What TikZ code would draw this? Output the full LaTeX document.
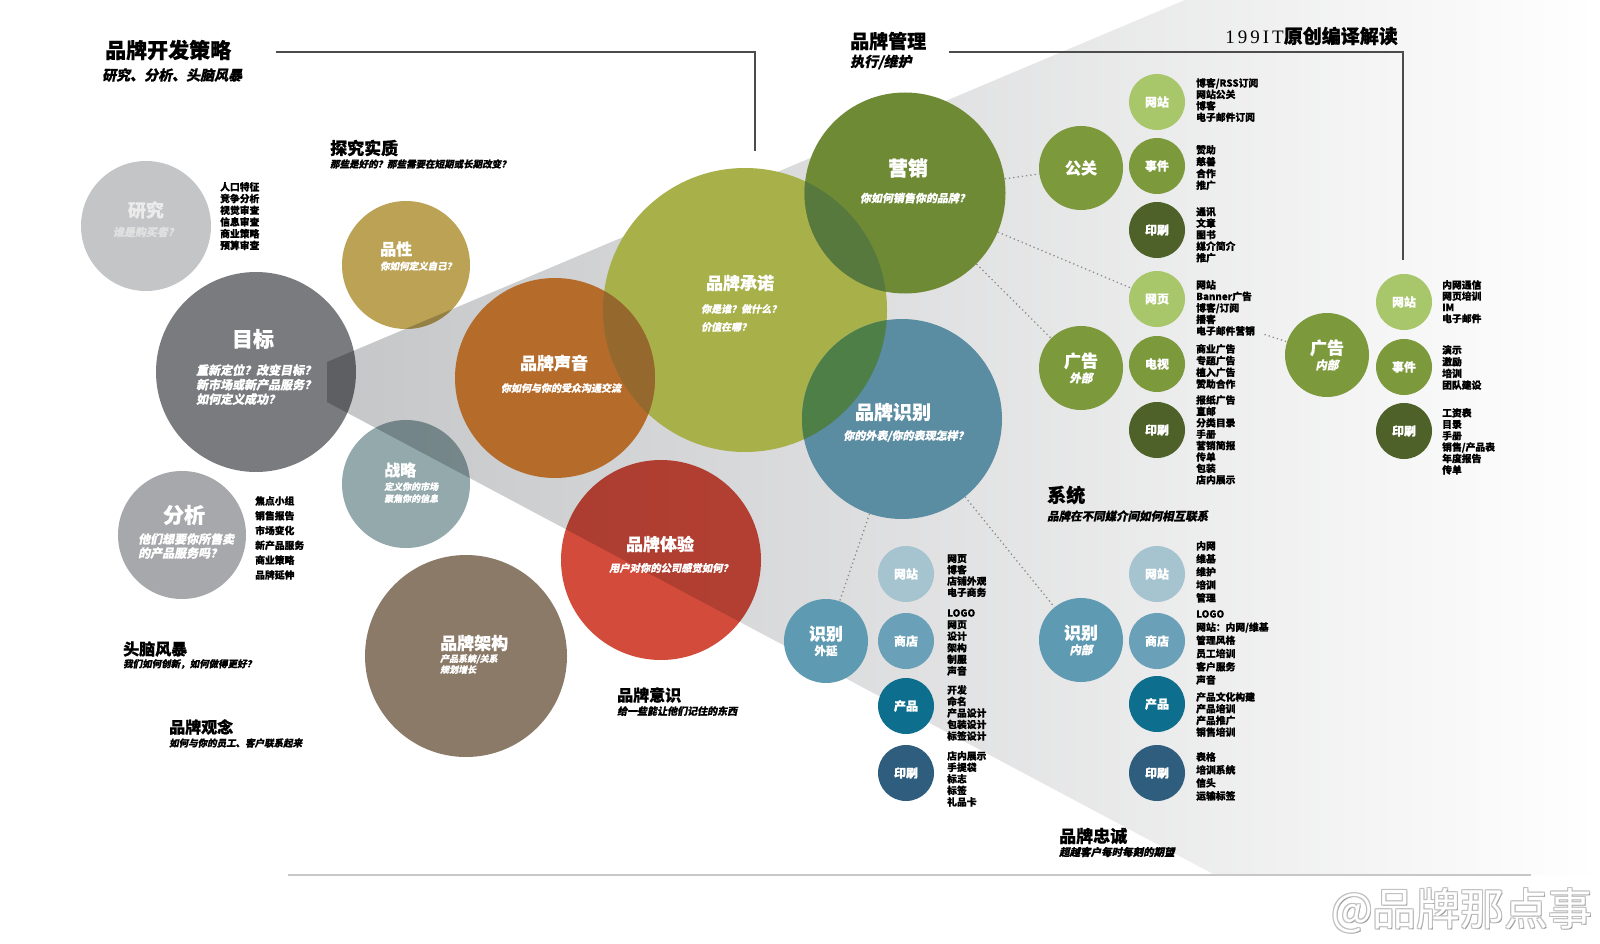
\documentclass[tikz,border=0pt]{standalone}
\usepackage{fontspec}
\setmainfont{Noto Sans CJK SC}[BoldFeatures={FakeBold=0.6}]
\newfontfamily\cjkit{Noto Sans CJK SC}[FakeSlant=0.2, BoldFeatures={FakeBold=0.6}]
\newfontfamily\latserif{Liberation Serif}
\newcommand\fsz[2]{\fontsize{#1}{#2}\selectfont}
\newcommand\lsp[2]{{\XeTeXlinebreaklocale "zh"\XeTeXlinebreakskip=#1\relax #2}}
\definecolor{cYJ}{HTML}{C4C5C7}
\definecolor{cMB}{HTML}{7A7B7E}
\definecolor{cFX}{HTML}{A7A8AB}
\definecolor{cPX}{HTML}{BBA255}
\definecolor{cZL}{HTML}{93A9AB}
\definecolor{cSY}{HTML}{B56C2B}
\definecolor{cCN}{HTML}{A8B04A}
\definecolor{cYX}{HTML}{6E8A34}
\definecolor{cSB}{HTML}{5A8CA2}
\definecolor{cTY}{HTML}{D34B3B}
\definecolor{cJG}{HTML}{8B7A68}
\definecolor{ovSY}{HTML}{95692D}
\definecolor{ovYX}{HTML}{57793E}
\definecolor{ovSB}{HTML}{4D7F46}
\definecolor{gL}{HTML}{A8C66A}
\definecolor{gM}{HTML}{7C9A3C}
\definecolor{gD}{HTML}{4E6128}
\definecolor{bL}{HTML}{A6C4D0}
\definecolor{bM}{HTML}{6BA1B8}
\definecolor{bB}{HTML}{5E9BB2}
\definecolor{bD}{HTML}{0E6E8E}
\definecolor{bN}{HTML}{2E5D7E}
\definecolor{wG}{HTML}{C5C6C8}
\tikzset{
  bub/.style={circle, inner sep=0pt, minimum size=#1},
  mul/.style={blend mode=multiply},
  hd/.style={font=\bfseries\fsz{#1}{#1}, text=white, inner sep=0pt},
  sub/.style={font=\cjkit\bfseries\fsz{#1}{#1}, text=white, inner sep=0pt},
  subm/.style 2 args={font=\cjkit\bfseries\fsz{#1}{#2}, text=white, inner sep=0pt, align=left, anchor=north west},
  bhd/.style={font=\bfseries\fsz{#1}{#1}, inner sep=0pt, anchor=west},
  bsub/.style={font=\cjkit\bfseries\fsz{#1}{#1}, inner sep=0pt, anchor=west},
  lst/.style={font=\bfseries\fsz{9.8}{#1}, align=left, anchor=north west, inner sep=0pt},
  sm/.style={circle, inner sep=0pt, minimum size=56pt, font=\bfseries\fsz{12}{12}, text=white},
  md/.style={circle, inner sep=0pt, minimum size=84pt, text=white, align=center},
  dotc/.style={draw=black!45, dash pattern=on 1.3pt off 3pt, line width=1.3pt},
  rulel/.style={draw=black!70, line width=1.3pt},
}
\begin{document}
\begin{tikzpicture}[x=1pt,y=-1pt]
\useasboundingbox (0,0) rectangle (1600,944);
\fill[white] (0,0) rectangle (1600,944);
% wedge
\shade[left color=wG, right color=white] (327,362) -- (1185,0) -- (1600,0) -- (1600,875) -- (1215,875) -- (327,402) -- cycle;
% big circles
\node[bub=130pt, fill=cYJ] (yj) at (146,226) {};
\node[bub=128pt, fill=cFX] (fx) at (182,535) {};
\node[bub=202pt, fill=cJG] (jg) at (466,656) {};
\node[bub=200pt, fill=cMB, mul] (mb) at (256,372) {};
\node[bub=128pt, fill=cPX, mul] (px) at (406,265) {};
\node[bub=128pt, fill=cZL, mul] (zl) at (406,484) {};
\node[bub=200pt, fill=cTY, mul] (ty) at (661,560) {};
\node[bub=284pt, fill=cCN] (cn) at (745,310) {};
\node[bub=200pt, fill=cSY] (sy) at (555,378) {};
\node[bub=201pt, fill=cYX] (yx) at (905,193) {};
\node[bub=200pt, fill=cSB] (sb) at (902,419) {};
\begin{scope}
  \clip (cn.center) circle[radius=142];
  \fill[ovSY] (sy.center) circle[radius=100];
  \fill[ovYX] (yx.center) circle[radius=100.5];
  \fill[ovSB] (sb.center) circle[radius=100];
\end{scope}
% small circles
\node[md, fill=gM, font=\bfseries\fsz{16}{16}] (gg) at (1081,168) {\lsp{4pt}{公关}};
\node[sm, fill=gL] (w1) at (1157,102) {\lsp{3pt}{网站}};
\node[sm, fill=gM] (e1) at (1157,166) {\lsp{3pt}{事件}};
\node[sm, fill=gD] (p1) at (1157,230) {\lsp{3pt}{印刷}};
\node[sm, fill=gL] (wy) at (1157,299) {\lsp{3pt}{网页}};
\node[sm, fill=gM] (tv) at (1157,364) {\lsp{3pt}{电视}};
\node[sm, fill=gD] (p2) at (1157,430) {\lsp{3pt}{印刷}};
\node[md, fill=gM] (gw) at (1081,368) {{\bfseries\fsz{17}{18}\lsp{3pt}{广告}}\\[3pt]{\cjkit\bfseries\fsz{11.5}{13}外部}};
\node[md, fill=gM] (gn) at (1327,355) {{\bfseries\fsz{17}{18}\lsp{3pt}{广告}}\\[3pt]{\cjkit\bfseries\fsz{11.5}{13}内部}};
\node[sm, fill=gL] (w2) at (1404,302) {\lsp{3pt}{网站}};
\node[sm, fill=gM] (e2) at (1404,367) {\lsp{3pt}{事件}};
\node[sm, fill=gD] (p3) at (1404,431) {\lsp{3pt}{印刷}};
\node[md, fill=bB] (sw) at (826,641) {{\bfseries\fsz{17}{18}\lsp{3pt}{识别}}\\[3pt]{\bfseries\fsz{11.5}{13}外延}};
\node[sm, fill=bL] (w3) at (906,574) {\lsp{3pt}{网站}};
\node[sm, fill=bM] (s3) at (906,641) {\lsp{3pt}{商店}};
\node[sm, fill=bD] (c3) at (906,706) {\lsp{3pt}{产品}};
\node[sm, fill=bN] (p4) at (906,773) {\lsp{3pt}{印刷}};
\node[md, fill=bB] (sn) at (1081,640) {{\bfseries\fsz{17}{18}\lsp{3pt}{识别}}\\[3pt]{\cjkit\bfseries\fsz{11.5}{13}内部}};
\node[sm, fill=bL] (w4) at (1157,574) {\lsp{3pt}{网站}};
\node[sm, fill=bM] (s4) at (1157,641) {\lsp{3pt}{商店}};
\node[sm, fill=bD] (c4) at (1157,704) {\lsp{3pt}{产品}};
\node[sm, fill=bN] (p5) at (1157,773) {\lsp{3pt}{印刷}};
% dotted connectors
\draw[dotc] (yx) -- (gg);
\draw[dotc] (yx) -- (wy);
\draw[dotc] (yx) -- (gw);
\draw[dotc, shorten <=85pt] (wy) -- (gn);
\draw[dotc] (sb) -- (sw);
\draw[dotc] (sb) -- (sn);
% rules
\coordinate (l1a) at (276,52);
\coordinate (l1b) at (755,151);
\draw[rulel] (l1a) -| (l1b);
\coordinate (l2a) at (949,52);
\coordinate (l2b) at (1403,260);
\draw[rulel] (l2a) -| (l2b);
\coordinate (b1) at (288,875);
\coordinate (b2) at (1531,875);
\draw[draw=black!22, line width=1.2pt] (b1) -- (b2);
% titles
\node[bhd=21] (t1) at (105,50) {\lsp{5pt}{品牌开发策略}};
\node[bsub=14] (t1s) at (102,75) {\lsp{1.5pt}{研究、分析、头脑风暴}};
\node[bhd=19] (gl) at (850,41) {品牌管理};
\node[bsub=14] (gls) at (850,62) {执行/维护};
\node[font=\fsz{19}{19}, anchor=east, inner sep=0pt] (src) at (1398,36) {{\latserif 1\hspace{3pt}9\hspace{3pt}9\hspace{3pt}I\hspace{3pt}T}\bfseries\lsp{4pt}{原创编译解读}};
\node[bhd=17] (tj) at (330,148) {探究实质};
\node[bsub=9.5] (tjs) at (330,164) {那些是好的？那些需要在短期或长期改变？};
% circle texts
\node[hd=18, text=white!92!black] (yjt) at (146,210) {研究};
\node[sub=11, text=white!88!black] (yjs) at (146,232) {谁是购买者？};
\node[hd=21] (mbt) at (253,339) {目标};
\node[subm={12}{14.5}] (mbs) at (196,364) {重新定位？改变目标？\\新市场或新产品服务？\\如何定义成功？};
\node[hd=21] (fxt) at (184,515) {分析};
\node[subm={12}{14}] (fxs) at (138,533) {他们想要你所售卖\\的产品服务吗？};
\node[hd=16, anchor=west] (pxt) at (380,249) {品性};
\node[sub=9.5, anchor=west] (pxs) at (380,266) {你如何定义自己？};
\node[hd=16, anchor=west] (zlt) at (384,470) {战略};
\node[subm={9}{12}] (zls) at (384,482) {定义你的市场\\聚焦你的信息};
\node[hd=17] (syt) at (554,363) {品牌声音};
\node[sub=10] (sys) at (561,388) {你如何与你的受众沟通交流};
\node[hd=17] (cnt) at (740,283) {品牌承诺};
\node[subm={10}{18}] (cns) at (701,304) {你是谁？做什么？\\价值在哪？};
\node[hd=20] (yxt) at (908,168) {营销};
\node[sub=11] (yxs) at (915,198) {你如何销售你的品牌？};
\node[hd=19] (sbt) at (893,412) {\lsp{4pt}{品牌识别}};
\node[sub=11] (sbs) at (906,436) {\lsp{0.7pt}{你的外表/你的表现怎样？}};
\node[hd=17] (tyt) at (660,544) {品牌体验};
\node[sub=10.3] (tys) at (671,568) {用户对你的公司感觉如何？};
\node[hd=17, anchor=west] (jgt) at (440,643) {品牌架构};
\node[subm={9}{11}] (jgs) at (440,654) {产品系统/关系\\规划增长};
% lists
\node[lst=11.7] (yjl) at (220,182) {人口特征\\竞争分析\\视觉审查\\信息审查\\商业策略\\预算审查};
\node[lst=14.8] (fxl) at (255,496) {焦点小组\\销售报告\\市场变化\\新产品服务\\商业策略\\品牌延伸};
\node[lst=11.4] (l1) at (1196,78) {博客/RSS订阅\\网站公关\\博客\\电子邮件订阅};
\node[lst=11.8] (l2) at (1196,145) {赞助\\慈善\\合作\\推广};
\node[lst=11.5] (l3) at (1196,207) {通讯\\文章\\图书\\媒介简介\\推广};
\node[lst=11.5] (l4) at (1196,280) {网站\\Banner广告\\博客/订阅\\播客\\电子邮件营销};
\node[lst=11.7] (l5) at (1196,344) {商业广告\\专题广告\\植入广告\\赞助合作};
\node[lst=11.4] (l6) at (1196,395) {报纸广告\\直邮\\分类目录\\手册\\营销简报\\传单\\包装\\店内展示};
\node[lst=11.2] (l7) at (1442,280) {内网通信\\网页培训\\IM\\电子邮件};
\node[lst=11.7] (l8) at (1442,345) {演示\\激励\\培训\\团队建设};
\node[lst=11.4] (l9) at (1442,408) {工资表\\目录\\手册\\销售/产品表\\年度报告\\传单};
\node[lst=11.3] (l10) at (947,554) {网页\\博客\\店铺外观\\电子商务};
\node[lst=11.6] (l11) at (947,609) {LOGO\\网页\\设计\\架构\\制服\\声音};
\node[lst=11.5] (l12) at (947,685) {开发\\命名\\产品设计\\包装设计\\标签设计};
\node[lst=11.5] (l13) at (947,751) {店内展示\\手提袋\\标志\\标签\\礼品卡};
\node[lst=13] (l14) at (1196,541) {内网\\维基\\维护\\培训\\管理};
\node[lst=13.2] (l15) at (1196,610) {LOGO\\网站：内网/维基\\管理风格\\员工培训\\客户服务\\声音};
\node[lst=11.7] (l16) at (1196,692) {产品文化构建\\产品培训\\产品推广\\销售培训};
\node[lst=13] (l17) at (1196,752) {表格\\培训系统\\信头\\运输标签};
% free labels
\node[bhd=19] (xt) at (1047,495) {\lsp{3pt}{系统}};
\node[bsub=11.5] (xts) at (1047,516) {\lsp{2pt}{品牌在不同媒介间如何相互联系}};
\node[bhd=17] (zc) at (1059,836) {品牌忠诚};
\node[bsub=10.5] (zcs) at (1059,852) {\lsp{1pt}{超越客户每时每刻的期望}};
\node[bhd=16] (nb) at (123,649) {头脑风暴};
\node[bsub=9.5] (nbs) at (123,664) {我们如何创新，如何做得更好？};
\node[bhd=16] (gn2) at (169,727) {品牌观念};
\node[bsub=9.5] (gn2s) at (169,743) {如何与你的员工、客户联系起来};
\node[bhd=16] (ys) at (617,695) {品牌意识};
\node[bsub=10] (yss) at (617,711) {给一些能让他们记住的东西};
% watermark
\node[font=\fsz{44}{44}, text=black!40, inner sep=0pt] (wm1) at (1463,912) {@品牌那点事};
\node[font=\fsz{44}{44}, text=black!25, inner sep=0pt] (wm2) at (1461,910) {@品牌那点事};
\node[font=\fsz{44}{44}, text=black!25, inner sep=0pt] (wm3) at (1463,910) {@品牌那点事};
\node[font=\fsz{44}{44}, text=black!25, inner sep=0pt] (wm4) at (1461,912) {@品牌那点事};
\node[font=\fsz{44}{44}, text=white, inner sep=0pt] (wm) at (1462,911) {@品牌那点事};
\end{tikzpicture}
\end{document}
